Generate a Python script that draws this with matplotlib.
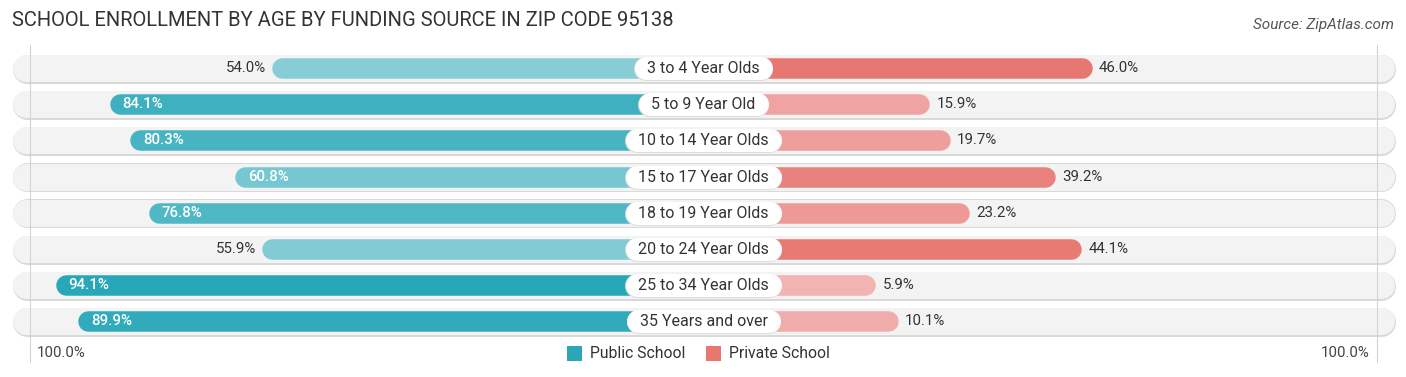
import numpy as np
import matplotlib
matplotlib.use('Agg')
import matplotlib.pyplot as plt
from matplotlib.patches import Rectangle
from matplotlib.colors import to_rgb

categories = ['3 to 4 Year Olds', '5 to 9 Year Old', '10 to 14 Year Olds',
              '15 to 17 Year Olds', '18 to 19 Year Olds', '20 to 24 Year Olds',
              '25 to 34 Year Olds', '35 Years and over']
public = [54.0, 84.1, 80.3, 60.8, 76.8, 55.9, 94.1, 89.9]
private = [46.0, 15.9, 19.7, 39.2, 23.2, 44.1, 5.9, 10.1]

plt.rcParams['font.family'] = ['Roboto', 'DejaVu Sans']

W, H = 1406, 377
PX_X = 5.4      # pixels per percent
PX_Y = 36.2     # pixels per row
CX = 703.5      # pixel x of centre
Y0 = 68         # pixel y of first row
OFF = 140 / PX_X  # part of each bar hidden under the label


def mix(c1, c2, t):
    a, b = np.array(to_rgb(c1)), np.array(to_rgb(c2))
    t = min(max(t, 0), 1)
    return tuple(a + (b - a) * t)


def pill(ax, x0, x1, y, hpx, color, z, dy=0.0):
    # rounded bar drawn as a thick line with round caps
    r = hpx / 2 / PX_X
    ax.plot([x0 + r, x1 - r], [y + dy, y + dy], color=color, lw=hpx * 0.72,
            solid_capstyle='round', zorder=z)


fig = plt.figure(figsize=(W / 100, H / 100), dpi=100)
ax = fig.add_axes([0, 0, 1, 1])
ax.set_xlim(-CX / PX_X, (W - CX) / PX_X)
ax.set_ylim((H - Y0) / PX_Y, -Y0 / PX_Y)
ax.axis('off')

bg_half = (CX - 12) / PX_X

for i in range(len(categories)):
    pill(ax, -bg_half, bg_half, i, 29, '#d9d9d9', 1, dy=0.6 / PX_Y)
    pill(ax, -bg_half + 0.8 / PX_X, bg_half - 0.8 / PX_X, i, 27, '#f3f3f3', 1.1)

# 100% guide lines
for s in (-1, 1):
    ax.plot([s * (673.5 / PX_X)] * 2, [(45 - Y0) / PX_Y, (362 - Y0) / PX_Y],
            color='#d3d3d3', lw=0.8, zorder=1.5)

renderer = fig.canvas.get_renderer()

for i, (cat, pu, pr) in enumerate(zip(categories, public, private)):
    cpu = mix('#90d1da', '#19a1b3', (pu - 50) / 50)
    cpr = mix('#f4bcbc', '#e6716a', pr / 50)
    pill(ax, -(OFF + pu), 0, i, 20.5, cpu, 2)
    pill(ax, 0, OFF + pr, i, 20.5, cpr, 2)

    if pu > 60:
        ax.text(-(OFF + pu) + 13 / PX_X, i, f'{pu:.1f}%', ha='left', va='center',
                fontsize=10.8, color='white', fontweight='medium', zorder=4)
    else:
        ax.text(-(OFF + pu) - 6 / PX_X, i, f'{pu:.1f}%', ha='right', va='center',
                fontsize=10.8, color='#333333', zorder=4)
    ax.text(OFF + pr + 7 / PX_X, i, f'{pr:.1f}%', ha='left', va='center',
            fontsize=10.8, color='#333333', zorder=4)

    t = ax.text(0, i + 0.5 / PX_Y, cat, ha='center', va='center', fontsize=11.5,
                color='#333333', zorder=5)
    tw = t.get_window_extent(renderer).width / PX_X
    half = tw / 2 + 13 / PX_X
    pill(ax, -half, half, i, 24, '#dddddd', 4.4, dy=1.0 / PX_Y)
    pill(ax, -half, half, i, 23, 'white', 4.5)

fig.text(12 / W, 1 - 21 / H, 'SCHOOL ENROLLMENT BY AGE BY FUNDING SOURCE IN ZIP CODE 95138',
         ha='left', va='center', fontsize=14.5, color='#333333')
fig.text(1394 / W, 1 - 25 / H, 'Source: ZipAtlas.com', ha='right', va='center',
         fontsize=11, color='#555555', style='italic')

ybot = 1 - 353 / H
fig.text(37 / W, ybot, '100.0%', ha='left', va='center', fontsize=10.8, color='#444444')
fig.text(1369 / W, ybot, '100.0%', ha='right', va='center', fontsize=10.8, color='#444444')

fig.add_artist(Rectangle((567 / W, 1 - 361 / H), 15 / W, 15 / H,
                         transform=fig.transFigure, fc='#2aa6b7', ec='none'))
fig.text(590 / W, ybot, 'Public School', ha='left', va='center', fontsize=11.3, color='#333333')
fig.add_artist(Rectangle((706 / W, 1 - 361 / H), 15 / W, 15 / H,
                         transform=fig.transFigure, fc='#e8776f', ec='none'))
fig.text(729 / W, ybot, 'Private School', ha='left', va='center', fontsize=11.3, color='#333333')

fig.savefig('out.png', dpi=100)
